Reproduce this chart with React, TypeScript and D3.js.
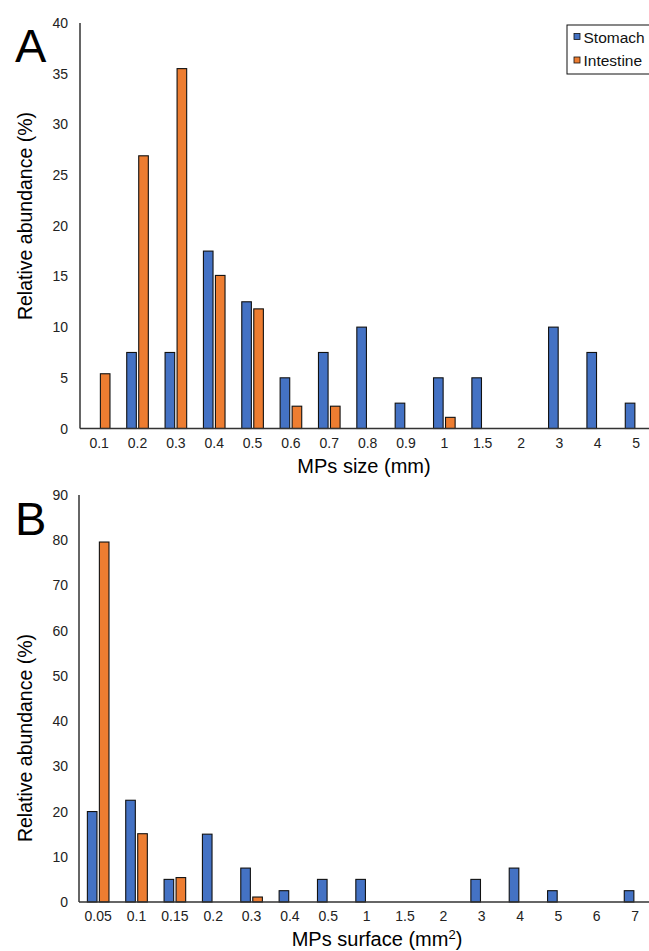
import React from "react";
import * as d3 from "d3";

const sizeCategories = ["0.1", "0.2", "0.3", "0.4", "0.5", "0.6", "0.7", "0.8", "0.9", "1", "1.5", "2", "3", "4", "5"];
const sizeStomach = [0, 7.5, 7.5, 17.5, 12.5, 5, 7.5, 10, 2.5, 5, 5, 0, 10, 7.5, 2.5];
const sizeIntestine = [5.4, 26.9, 35.5, 15.1, 11.8, 2.2, 2.2, 0, 0, 1.1, 0, 0, 0, 0, 0];
const sizeTicks = [0, 5, 10, 15, 20, 25, 30, 35, 40];

const surfCategories = ["0.05", "0.1", "0.15", "0.2", "0.3", "0.4", "0.5", "1", "1.5", "2", "3", "4", "5", "6", "7"];
const surfStomach = [20, 22.5, 5, 15, 7.5, 2.5, 5, 5, 0, 0, 5, 7.5, 2.5, 0, 2.5];
const surfIntestine = [79.6, 15.1, 5.4, 0, 1.1, 0, 0, 0, 0, 0, 0, 0, 0, 0, 0];
const surfTicks = [0, 10, 20, 30, 40, 50, 60, 70, 80, 90];

const seriesNames = ["Stomach", "Intestine"];
const seriesColors = ["#4472C4", "#ED7D31"];

const FONT = "'Liberation Sans', Arial, Helvetica, sans-serif";

type PanelProps = {
  letter: string;
  categories: string[];
  stomach: number[];
  intestine: number[];
  ticks: number[];
  yTop: number;
  yBottom: number;
  xTitle: React.ReactNode;
  xTitleX: number;
  xTitleY: number;
  axisX: number;
  letterY: number;
  yTitleY: number;
  legend?: boolean;
};

function Panel(p: PanelProps) {
  const yMax = p.ticks[p.ticks.length - 1];
  const y = d3.scaleLinear().domain([0, yMax]).range([p.yBottom, p.yTop]);
  const x = d3.scaleBand<string>().domain(p.categories).range([p.axisX, p.axisX + 15 * 38.35]).padding(0);
  const x1 = d3.scaleBand<string>().domain(seriesNames).range([-10.8, 10.8]).paddingInner(0.2);
  const series = [p.stomach, p.intestine];
  return (
    <g>
      <text x={15} y={p.letterY} fontSize={47} fontFamily={FONT} fill="#000">{p.letter}</text>
      {p.ticks.map((t) => (
        <text key={t} x={68} y={y(t) + 5} fontSize={14} textAnchor="end" fontFamily={FONT} fill="#222">{t}</text>
      ))}
      {series.map((vals, si) =>
        vals.map((v, i) =>
          v > 0 ? (
            <rect
              key={si + "-" + i}
              x={(x(p.categories[i]) as number) + x.bandwidth() / 2 + (x1(seriesNames[si]) as number)}
              y={y(v)}
              width={x1.bandwidth()}
              height={p.yBottom - y(v)}
              fill={seriesColors[si]}
              stroke="#111"
              strokeWidth={1.1}
            />
          ) : null
        )
      )}
      <line x1={p.axisX} x2={p.axisX} y1={p.yTop} y2={p.yBottom} stroke="#333" strokeWidth={1.5} />
      <line x1={p.axisX} x2={660} y1={p.yBottom} y2={p.yBottom} stroke="#333" strokeWidth={1.5} />
      {p.categories.map((c) => (
        <text key={c} x={(x(c) as number) + x.bandwidth() / 2} y={p.yBottom + 19} fontSize={14} textAnchor="middle" fontFamily={FONT} fill="#222">{c}</text>
      ))}
      <text x={p.xTitleX} y={p.xTitleY} fontSize={20} textAnchor="middle" fontFamily={FONT} fill="#000">{p.xTitle}</text>
      <text transform={`translate(32,${p.yTitleY}) rotate(-90)`} fontSize={19.5} textAnchor="middle" fontFamily={FONT} fill="#000">Relative abundance (%)</text>
      {p.legend && (
        <g>
          <rect x={567} y={25} width={90} height={49} fill="#fff" stroke="#111" strokeWidth={1} />
          {seriesNames.map((n, i) => (
            <g key={n}>
              <rect x={574} y={33.5 + i * 23.5} width={6} height={6} fill={seriesColors[i]} stroke="#111" strokeWidth={0.8} />
              <text x={583.5} y={42.5 + i * 23.5} fontSize={15.5} fontFamily={FONT} fill="#111">{n}</text>
            </g>
          ))}
        </g>
      )}
    </g>
  );
}

export default function App() {
  return (
    <svg width={649} height={951} style={{ position: "absolute", left: 0, top: 0, background: "#fff" }}>
      <rect width={649} height={951} fill="#fff" />
      <Panel
        letter="A"
        categories={sizeCategories}
        stomach={sizeStomach}
        intestine={sizeIntestine}
        ticks={sizeTicks}
        yTop={23}
        yBottom={428.5}
        xTitle="MPs size (mm)"
        xTitleX={364}
        xTitleY={473}
        axisX={80}
        letterY={62}
        yTitleY={216}
        legend
      />
      <Panel
        letter="B"
        categories={surfCategories}
        stomach={surfStomach}
        intestine={surfIntestine}
        ticks={surfTicks}
        yTop={495}
        yBottom={902}
        xTitle={<><tspan>MPs surface (mm</tspan><tspan dy={-7} fontSize={13}>2</tspan><tspan dy={7}>)</tspan></>}
        xTitleX={377}
        xTitleY={946}
        axisX={79}
        letterY={535}
        yTitleY={738}
      />
    </svg>
  );
}
